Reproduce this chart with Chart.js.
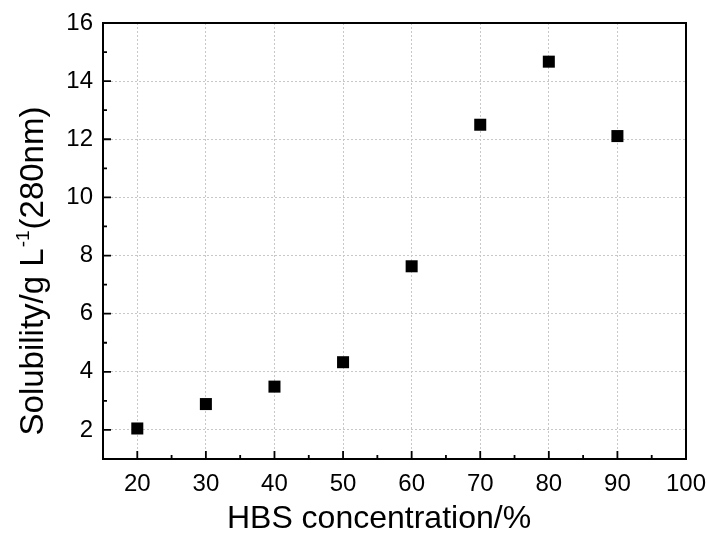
<!DOCTYPE html>
<html>
<head>
<meta charset="utf-8">
<script src="https://cdn.jsdelivr.net/npm/chart.js@4/dist/chart.umd.min.js"></script>
<style>
  body { margin: 0; background: #fff; }
  #wrap { width: 707px; height: 533px; position: relative; }
</style>
</head>
<body>
<div id="wrap"><canvas id="solChart"></canvas></div>
<script>
// data
const hbsConc = [20, 30, 40, 50, 60, 70, 80, 90];
const solubility = [2.05, 2.89, 3.49, 4.33, 7.63, 12.5, 14.67, 12.11];

// axis ticks
const xTicks = [20, 30, 40, 50, 60, 70, 80, 90, 100];
const xMinor = [25, 35, 45, 55, 65, 75, 85, 95];
const yTicks = [2, 4, 6, 8, 10, 12, 14, 16];
const yMinor = [3, 5, 7, 9, 11, 13, 15];

const FONT = "'Liberation Sans', Arial, Helvetica, sans-serif";

// frame, inward tick marks and axis titles
const framePlugin = {
  id: "frame",
  afterDraw(chart) {
    const ctx = chart.ctx;
    const a = chart.chartArea;
    const xs = chart.scales.x, ys = chart.scales.y;
    ctx.save();
    ctx.strokeStyle = "#000";
    ctx.lineWidth = 2;
    ctx.strokeRect(a.left, a.top, a.right - a.left, a.bottom - a.top);

    ctx.lineWidth = 1.8;
    ctx.beginPath();
    xTicks.forEach(v => {
      const px = xs.getPixelForValue(v);
      ctx.moveTo(px, a.bottom); ctx.lineTo(px, a.bottom - 8);
    });
    xMinor.forEach(v => {
      const px = xs.getPixelForValue(v);
      ctx.moveTo(px, a.bottom); ctx.lineTo(px, a.bottom - 4);
    });
    yTicks.forEach(v => {
      const py = ys.getPixelForValue(v);
      ctx.moveTo(a.left, py); ctx.lineTo(a.left + 8, py);
    });
    yMinor.forEach(v => {
      const py = ys.getPixelForValue(v);
      ctx.moveTo(a.left, py); ctx.lineTo(a.left + 4, py);
    });
    ctx.stroke();

    // x title
    ctx.fillStyle = "#000";
    ctx.font = "32px " + FONT;
    ctx.textAlign = "center";
    ctx.textBaseline = "alphabetic";
    ctx.fillText("HBS concentration/%", 379, 528);

    // y title with superscript
    const p1 = "Solubility/g L", sup = "-1", p2 = "(280nm)";
    ctx.font = "33px " + FONT;
    const w1 = ctx.measureText(p1).width, w3 = ctx.measureText(p2).width;
    ctx.font = "19px " + FONT;
    const w2 = ctx.measureText(sup).width + 2;
    const total = w1 + w2 + w3;
    ctx.translate(43, 271);
    ctx.rotate(-Math.PI / 2);
    ctx.textAlign = "left";
    let x0 = -total / 2;
    ctx.font = "33px " + FONT;
    ctx.fillText(p1, x0, 0);
    ctx.font = "19px " + FONT;
    ctx.fillText(sup, x0 + w1 + 1, -14);
    ctx.font = "33px " + FONT;
    ctx.fillText(p2, x0 + w1 + w2, 0);
    ctx.restore();
  }
};

const ctx = document.getElementById("solChart").getContext("2d");

const chart = new Chart(ctx, {
  type: "scatter",
  data: {
    datasets: [{
      label: "Solubility",
      data: hbsConc.map((x, i) => ({ x: x, y: solubility[i] })),
      pointStyle: "rect",
      pointRadius: 8.5,
      pointHoverRadius: 8.5,
      backgroundColor: "#000",
      borderColor: "#000",
      borderWidth: 0
    }]
  },
  options: {
    responsive: true,
    maintainAspectRatio: false,
    animation: false,
    layout: { padding: { top: 23, right: 21, left: 0, bottom: 0 } },
    plugins: {
      legend: { display: false },
      tooltip: { enabled: false }
    },
    scales: {
      x: {
        type: "linear",
        min: 15,
        max: 100,
        afterBuildTicks: s => { s.ticks = xTicks.map(v => ({ value: v })); },
        afterFit: s => { s.height = 74; s.paddingLeft = 0; s.paddingRight = 0; },
        grid: { color: "#c8c8c8", lineWidth: 1, drawTicks: false },
        border: { display: false, dash: [2, 2] },
        ticks: {
          color: "#000",
          padding: 11,
          maxRotation: 0,
          font: { family: FONT, size: 24 }
        }
      },
      y: {
        type: "linear",
        min: 1,
        max: 16,
        afterBuildTicks: s => { s.ticks = yTicks.map(v => ({ value: v })); },
        afterFit: s => { s.width = 103; s.paddingTop = 0; s.paddingBottom = 0; },
        grid: { color: "#c8c8c8", lineWidth: 1, drawTicks: false },
        border: { display: false, dash: [2, 2] },
        ticks: {
          color: "#000",
          padding: 10,
          font: { family: FONT, size: 24 }
        }
      }
    }
  },
  plugins: [framePlugin]
});
</script>
</body>
</html>
